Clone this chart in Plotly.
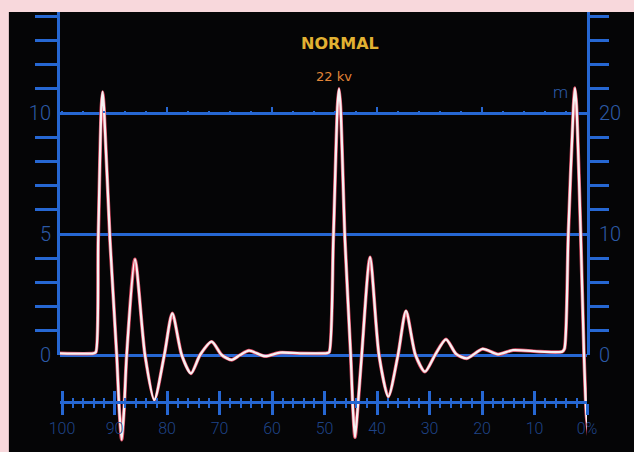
import plotly.graph_objects as go

# ---- data ----
# waveform: x in percent of the bottom scale, y in units of the left scale
wave_x = [100.4, 94.0, 93.55, 93.10, 92.51, 92.27, 92.00, 90.86, 89.58, 89.05, 88.63, 88.19, 87.68,
          86.10, 84.19, 82.42, 80.51, 78.99, 77.20, 75.43, 73.71, 71.49, 69.58, 67.68, 66.10,
          64.38, 61.33, 58.48, 54.67, 49.5,
          49.1, 48.32, 47.52, 47.24, 46.95, 46.10, 45.01, 44.57, 44.19, 43.71, 42.91,
          41.33, 39.62, 37.85, 36.00, 34.48, 32.67, 30.86, 28.95, 26.86, 24.95, 22.91,
          19.87, 16.95, 14.10, 8.95, 4.7,
          4.3, 3.56, 2.57, 2.29, 2.00, 1.20, 0.57, 0.10, -0.38]
wave_y = [0.07, 0.07, 0.12, 4.75, 10.2, 10.87, 10.2, 4.75, 0.0, -2.4, -3.5, -2.3, 0.0,
          3.95, 0.0, -1.86, 0.0, 1.72, 0.0, -0.76, 0.0, 0.55, 0.0, -0.20, 0.0,
          0.18, -0.05, 0.10, 0.07, 0.08,
          0.12, 4.75, 10.3, 11.0, 10.3, 4.75, 0.0, -2.3, -3.4, -2.3, 0.0,
          4.04, 0.0, -1.72, 0.0, 1.82, 0.0, -0.69, 0.0, 0.65, 0.05, -0.14,
          0.25, 0.03, 0.20, 0.14, 0.14,
          0.25, 5.0, 10.3, 11.03, 10.3, 5.0, 0.0, -2.5, -3.4]

pct_ticks = [100, 90, 80, 70, 60, 50, 40, 30, 20, 10, 0]
pct_text = ["100", "90", "80", "70", "60", "50", "40", "30", "20", "10", "0%"]
left_labels = [0, 5, 10]
left_minor = [1, 2, 3, 4, 6, 7, 8, 9, 11, 12, 13, 14]
right_labels = [0, 10, 20]
right_minor = [2, 4, 6, 8, 12, 14, 16, 18, 22, 24, 26, 28]
top_scale_ticks = [80, 60, 40, 20]
title_text = "NORMAL"
sub_text = "22 kv"

# ---- style ----
PINK = "#f8d8dc"
PANEL = "#050506"
BLUE = "#2667d2"
LBL = "#2c5aa6"
LBL_DIM = "#1f4488"
Y0, Y1 = -4.008, 14.174
X0, X1 = 100.38, 0
DOM0 = 0.2205
XPOS = 0.1136
TOPPOS = 0.7705
lab_font = dict(family="Roboto, Liberation Sans, sans-serif", size=20, color=LBL, weight=300)

fig = go.Figure()
fig.add_trace(go.Scatter(x=wave_x, y=wave_y, mode="lines",
                         line=dict(color="#dc4a62", width=3.6, shape="spline", smoothing=0.7),
                         hoverinfo="skip", showlegend=False))
fig.add_trace(go.Scatter(x=wave_x, y=wave_y, mode="lines",
                         line=dict(color="#f6f1f2", width=2.3, shape="spline", smoothing=0.7),
                         hoverinfo="skip", showlegend=False))
for xa, ya in [("x", "y2"), ("x", "y3"), ("x", "y4"), ("x", "y5"),
               ("x2", "y"), ("x3", "y"), ("x4", "y")]:
    fig.add_trace(go.Scatter(x=[None], y=[None], xaxis=xa, yaxis=ya,
                             hoverinfo="skip", showlegend=False))

common_x = dict(range=[X0, X1], showgrid=False, zeroline=False, automargin=False)
common_y = dict(showgrid=False, zeroline=False, automargin=False)

fig.update_layout(
    width=634, height=452,
    margin=dict(l=60, r=47, t=12, b=0, autoexpand=False),
    paper_bgcolor=PINK, plot_bgcolor="rgba(0,0,0,0)",
    showlegend=False,
    shapes=[dict(type="rect", xref="paper", yref="paper", x0=-0.097, x1=1.12, y0=-0.05, y1=1.0,
                 fillcolor=PANEL, line=dict(width=0), layer="below")],
    xaxis=dict(**common_x, anchor="free", position=XPOS,
               showline=True, linecolor=BLUE, linewidth=3,
               tickmode="linear", tick0=0, dtick=10, ticks="outside", ticklen=11, tickwidth=3,
               tickcolor=BLUE, showticklabels=False,
               minor=dict(tickmode="linear", tick0=0, dtick=2, ticks="outside", ticklen=4,
                          tickwidth=2, tickcolor=BLUE, showgrid=False)),
    xaxis2=dict(**common_x, overlaying="x", anchor="free", position=XPOS, showline=False,
                tickmode="linear", tick0=0, dtick=10, ticks="inside", ticklen=11, tickwidth=3,
                tickcolor=BLUE, showticklabels=False,
                minor=dict(tickmode="linear", tick0=0, dtick=2, ticks="inside", ticklen=4,
                           tickwidth=2, tickcolor=BLUE, showgrid=False)),
    xaxis3=dict(**common_x, overlaying="x", anchor="free", position=XPOS, showline=False,
                tickmode="array", tickvals=pct_ticks, ticktext=pct_text, ticks="",
                showticklabels=True, ticklabelstandoff=15,
                tickfont=dict(family="Roboto, Liberation Sans, sans-serif", size=16,
                              color=LBL_DIM, weight=300)),
    xaxis4=dict(**common_x, overlaying="x", anchor="free", position=TOPPOS, showline=False,
                tickmode="array", tickvals=top_scale_ticks,
                ticks="inside", ticklen=6, tickwidth=2, tickcolor=BLUE, showticklabels=False,
                minor=dict(tickmode="linear", tick0=0, dtick=4, ticks="inside", ticklen=2,
                           tickwidth=2, tickcolor=BLUE, showgrid=False)),
    yaxis=dict(range=[Y0, Y1], domain=[0, 1], showgrid=True, gridcolor=BLUE, gridwidth=3,
               tickmode="array", tickvals=left_labels, showticklabels=False, ticks="",
               zeroline=False, showline=False, automargin=False),
    yaxis2=dict(**common_y, range=[0, Y1], domain=[DOM0, 1], anchor="x", side="left",
                showline=True, linecolor=BLUE, linewidth=3,
                tickmode="array", tickvals=left_minor, ticks="outside", ticklen=22, tickwidth=3,
                tickcolor=BLUE, showticklabels=False),
    yaxis3=dict(**common_y, range=[0, Y1], domain=[DOM0, 1], anchor="x", side="left",
                showline=False, tickmode="array", tickvals=left_labels,
                ticks="", ticklabelstandoff=8, tickfont=lab_font),
    yaxis4=dict(**common_y, range=[0, 2 * Y1], domain=[DOM0, 1], anchor="x", side="right",
                showline=True, linecolor=BLUE, linewidth=3,
                tickmode="array", tickvals=right_minor, ticks="outside", ticklen=19, tickwidth=3,
                tickcolor=BLUE, showticklabels=False),
    yaxis5=dict(**common_y, range=[0, 2 * Y1], domain=[DOM0, 1], anchor="x", side="right",
                showline=False, tickmode="array", tickvals=right_labels,
                ticks="", ticklabelstandoff=11, tickfont=lab_font),
    annotations=[
        dict(text=title_text, xref="paper", yref="paper", x=0.5313, y=0.9295, showarrow=False,
             xanchor="center", yanchor="middle",
             font=dict(family="DejaVu Sans", size=16, color="#e2b232", weight="bold")),
        dict(text=sub_text, xref="paper", yref="paper", x=0.5199, y=0.8523, showarrow=False,
             xanchor="center", yanchor="middle",
             font=dict(family="DejaVu Sans", size=13, color="#e48638")),
        dict(text="m", xref="paper", yref="paper", x=0.9488, y=0.818, showarrow=False,
             xanchor="center", yanchor="middle",
             font=dict(family="Roboto, sans-serif", size=17, color=LBL, weight=300)),
    ],
)

fig.write_html("out.html", config={"displayModeBar": False},
               post_script="document.body.style.margin='0';")
